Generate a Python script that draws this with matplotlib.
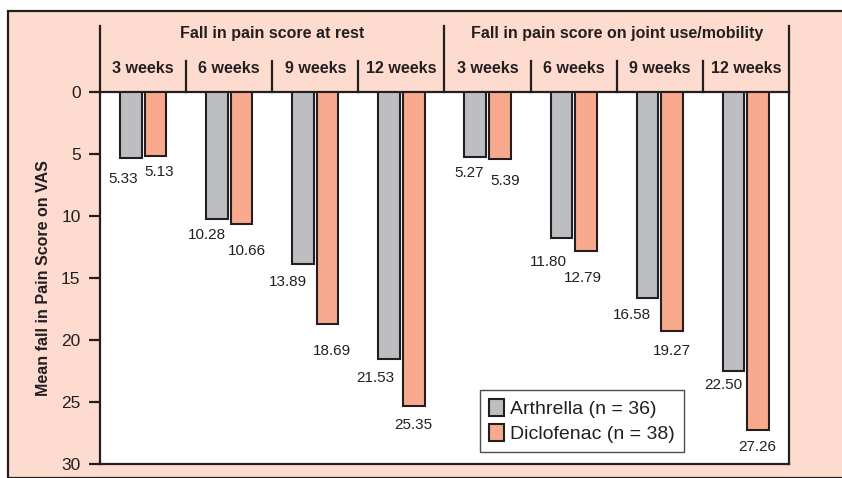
import matplotlib.pyplot as plt
from matplotlib.patches import Rectangle
import numpy as np

plt.rcParams['font.family'] = ['Liberation Sans', 'DejaVu Sans']

groups = ['Fall in pain score at rest', 'Fall in pain score on joint use/mobility']
weeks = ['3 weeks', '6 weeks', '9 weeks', '12 weeks']
arthrella = [5.33, 10.28, 13.89, 21.53, 5.27, 11.80, 16.58, 22.50]
diclofenac = [5.13, 10.66, 18.69, 25.35, 5.39, 12.79, 19.27, 27.26]
legend_labels = ['Arthrella (n = 36)', 'Diclofenac (n = 38)']

bg = '#fddbcf'
grey = '#bdbec2'
salmon = '#f9aa8e'
dark = '#231f20'

fig = plt.figure(figsize=(8.42, 4.78), dpi=100)
fig.patches.append(Rectangle((8 / 842, 0), 1, 1 - 11 / 478, transform=fig.transFigure,
                             facecolor=bg, edgecolor=dark, linewidth=1.6, zorder=-10))

ax = fig.add_axes([100 / 842, 14 / 478, 689 / 842, 372 / 478])
ax.set_facecolor('white')

x = np.arange(8) + 0.5
w = 0.25
b1 = ax.bar(x - 0.143, arthrella, w, color=grey, edgecolor=dark, linewidth=1.5,
            label=legend_labels[0], zorder=3)
b2 = ax.bar(x + 0.143, diclofenac, w, color=salmon, edgecolor=dark, linewidth=1.5,
            label=legend_labels[1], zorder=3)

ax.set_xlim(0, 8)
ax.set_ylim(30, 0)
ax.set_yticks(range(0, 31, 5))
ax.set_xticks([])
ax.tick_params(axis='y', direction='out', length=8, width=1.6, labelsize=12.5,
               colors=dark, pad=6)
for s in ax.spines.values():
    s.set_linewidth(1.6)
    s.set_color(dark)
ax.set_ylabel('Mean fall in Pain Score on VAS', fontsize=11.5, fontweight='bold',
              color=dark, labelpad=7)

# value labels (pixel offsets from bar bottom centre)
off1 = [(-8, 21), (-10, 16), (-15, 18), (-14, 19), (-6, 16), (-13, 24), (-16, 17), (-10, 14)]
off2 = [(4, 16), (5, 27), (4, 27), (0, 19), (5, 22), (-3, 27), (0, 20), (-1, 17)]
for bars, vals, offs in [(b1, arthrella, off1), (b2, diclofenac, off2)]:
    for r, v, (dx, dy) in zip(bars, vals, offs):
        ax.annotate('%.2f' % v, (r.get_x() + r.get_width() / 2, v),
                    xytext=(dx, -dy), textcoords='offset pixels',
                    ha='center', va='center', fontsize=11, color=dark, zorder=4)

# header above the plot
for xv in [0, 4, 8]:
    ax.plot([xv, xv], [0, -5.3], color=dark, lw=1.6, clip_on=False)
for xv in [1, 2, 3, 5, 6, 7]:
    ax.plot([xv, xv], [0, -2.5], color=dark, lw=1.6, clip_on=False)
for i, g in enumerate(groups):
    ax.text(i * 4 + 2, -4.75, g, ha='center', va='center', fontsize=11.5,
            fontweight='bold', color=dark, clip_on=False)
    for j, wk in enumerate(weeks):
        ax.text(i * 4 + j + 0.5, -1.9, wk, ha='center', va='center', fontsize=11.5,
                fontweight='bold', color=dark, clip_on=False)

leg = ax.legend(loc='lower left', bbox_to_anchor=(380 / 689, 12 / 372), fontsize=14,
                frameon=True, fancybox=False, handlelength=0.8, handleheight=1.0,
                handletextpad=0.3, borderpad=0.45, labelspacing=0.3, borderaxespad=0)
leg.get_frame().set_edgecolor(dark)
leg.get_frame().set_linewidth(1.0)
for t in leg.get_texts():
    t.set_color(dark)

fig.savefig('out.png', dpi=100)
